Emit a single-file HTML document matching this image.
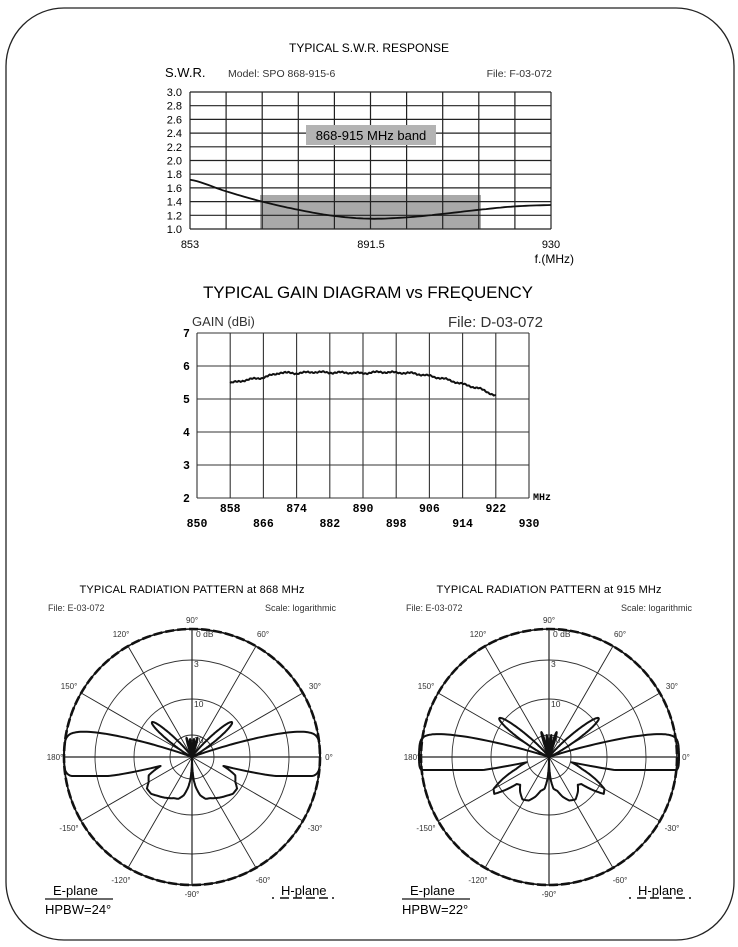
<!DOCTYPE html>
<html><head><meta charset="utf-8"><style>
body{margin:0;background:#fff;}
svg{display:block;font-family:"Liberation Sans",sans-serif;}
</style></head><body>
<svg id="s" width="738" height="947" viewBox="0 0 738 947" xmlns="http://www.w3.org/2000/svg">
<rect x="6" y="8" width="728" height="932" rx="58" ry="58" fill="none" stroke="#222" stroke-width="1.3"/>
<text x="369" y="52" font-size="12" text-anchor="middle" textLength="160">TYPICAL S.W.R. RESPONSE</text>
<text x="165" y="77" font-size="13">S.W.R.</text>
<text x="228" y="77" font-size="10.5" fill="#333">Model:  SPO 868-915-6</text>
<text x="552" y="77" font-size="10.5" text-anchor="end" fill="#333">File:  F-03-072</text>
<rect x="260" y="195" width="221" height="34" fill="#a9a9a9"/>
<g id="swrgrid" stroke="#222" stroke-width="1.2"></g>
<rect x="306" y="125" width="130" height="20" fill="#b3b3b3"/>
<text x="371" y="140" font-size="13" text-anchor="middle">868-915 MHz band</text>
<g id="swrlab" font-size="11" text-anchor="end"></g>
<text x="190" y="248" font-size="11" text-anchor="middle">853</text>
<text x="371" y="248" font-size="11" text-anchor="middle">891.5</text>
<text x="551" y="248" font-size="11" text-anchor="middle">930</text>
<text x="574" y="263" font-size="12" text-anchor="end">f.(MHz)</text>
<path id="swrc" fill="none" stroke="#111" stroke-width="1.8"/>
<text x="368" y="298" font-size="17" text-anchor="middle" textLength="330">TYPICAL GAIN DIAGRAM vs FREQUENCY</text>
<text x="192" y="326" font-size="13" fill="#333">GAIN (dBi)</text>
<text x="543" y="327" font-size="15" text-anchor="end" fill="#333">File:  D-03-072</text>
<g id="ggrid" stroke="#333" stroke-width="1.1"></g>
<g id="glab" font-family="Liberation Mono,monospace" font-weight="bold" font-size="11.5"></g>
<text x="533" y="500" font-family="Liberation Mono,monospace" font-weight="bold" font-size="10">MHz</text>
<path id="gc" fill="none" stroke="#111" stroke-width="2"/>
<text x="192" y="593" font-size="11" text-anchor="middle" textLength="225">TYPICAL RADIATION PATTERN at 868 MHz</text>
<text x="549" y="593" font-size="11" text-anchor="middle" textLength="225">TYPICAL RADIATION PATTERN at 915 MHz</text>
<g id="p1"></g><g id="p2"></g>
</svg>
<script>
var NS="http://www.w3.org/2000/svg";
function el(p,t,a,txt){var e=document.createElementNS(NS,t);for(var k in a)e.setAttribute(k,a[k]);if(txt!=null)e.textContent=txt;p.appendChild(e);return e;}
var $=function(i){return document.getElementById(i)};
var g=$('swrgrid');
for(var i=0;i<=10;i++){var x=190+i*36.1;el(g,'line',{x1:x,y1:92,x2:x,y2:229});}
for(var j=0;j<=10;j++){var y=92+j*13.7;el(g,'line',{x1:190,y1:y,x2:551,y2:y});
 el($('swrlab'),'text',{x:182,y:y+4},(3-j*0.2).toFixed(1));}
var sv=[1.72,1.55,1.40,1.28,1.19,1.15,1.17,1.22,1.28,1.33,1.35];
var d='';for(var i=0;i<=100;i++){var t=i/10,k=Math.min(9,Math.floor(t)),f=t-k;
 var v0=sv[Math.max(0,k-1)],v1=sv[k],v2=sv[k+1],v3=sv[Math.min(10,k+2)];
 var v=0.5*((2*v1)+(-v0+v2)*f+(2*v0-5*v1+4*v2-v3)*f*f+(-v0+3*v1-3*v2+v3)*f*f*f);
 d+=(i?'L':'M')+(190+t*36.1).toFixed(1)+','+(229-(v-1)*68.5).toFixed(1);}
$('swrc').setAttribute('d',d);
g=$('ggrid');
for(var i=0;i<=10;i++){var x=197+i*33.2;el(g,'line',{x1:x,y1:333,x2:x,y2:498});}
for(var j=0;j<=5;j++){var y=333+j*33;el(g,'line',{x1:197,y1:y,x2:529,y2:y});
 el($('glab'),'text',{x:183,y:y+4},String(7-j));}
for(var i=0;i<=10;i++){var x=197+i*33.2,f=850+i*8;
 el($('glab'),'text',{x:x,y:(i%2?512:527),'text-anchor':'middle'},String(f));}
var gp=[[858,5.48],[862,5.58],[866,5.65],[870,5.8],[874,5.78],[878,5.82],[882,5.8],[886,5.8],[890,5.78],[894,5.82],[898,5.8],[902,5.78],[906,5.7],[910,5.6],[914,5.45],[918,5.32],[922,5.1]];
d='';for(var i=0;i<=256;i++){var f=858+i*0.25,k=Math.min(15,Math.floor((f-858)/4)),u=(f-858)/4-k;
 var v=gp[k][1]*(1-u)+gp[k+1][1]*u+ (Math.sin(i*1.7)*0.015+Math.sin(i*0.37)*0.02);
 d+=(i?'L':'M')+(197+(f-850)*4.15).toFixed(1)+','+(498-(v-2)*33).toFixed(1);}
$('gc').setAttribute('d',d);
function interp(pts,a){for(var i=0;i<pts.length-1;i++){if(a<=pts[i+1][0]){var u=(a-pts[i][0])/(pts[i+1][0]-pts[i][0]);return pts[i][1]*(1-u)+pts[i+1][1]*u;}}return pts[pts.length-1][1];}
function polar(gid,cx,cy,R,rf,hp,fileX,scaleX){
 var p=$(gid);
 el(p,'text',{x:fileX,y:611,'font-size':9,fill:'#333'},'File:  E-03-072');
 el(p,'text',{x:scaleX,y:611,'font-size':9,fill:'#333','text-anchor':'end'},'Scale: logarithmic');
 [97,58,22].forEach(function(r){el(p,'circle',{cx:cx,cy:cy,r:r,fill:'none',stroke:'#333','stroke-width':0.9});});
 el(p,'circle',{cx:cx,cy:cy,r:R,fill:'none',stroke:'#111','stroke-width':1.6});
 el(p,'circle',{cx:cx,cy:cy,r:R,fill:'none',stroke:'#111','stroke-width':2.6,'stroke-dasharray':'9 3'});
 for(var a=0;a<360;a+=30){var rad=a*Math.PI/180;
  el(p,'line',{x1:cx,y1:cy,x2:cx+R*Math.cos(rad),y2:cy-R*Math.sin(rad),stroke:'#222','stroke-width':(a%90?0.9:1.2)});
  var lab=a<=180?a:a-360; var L=R+(a%90?14:9);
  el(p,'text',{x:cx+L*Math.cos(rad),y:cy-L*Math.sin(rad)+3,'font-size':8,'text-anchor':'middle',fill:'#333'},(lab==-180?180:lab)+'°');}
 el(p,'text',{x:cx+4,y:cy-R+8,'font-size':8.5,fill:'#333'},'0  dB');
 el(p,'text',{x:cx+2,y:cy-97+7,'font-size':8.5,fill:'#333'},'3');
 el(p,'text',{x:cx+2,y:cy-58+8,'font-size':8.5,fill:'#333'},'10');
 el(p,'text',{x:cx+2,y:cy-22+8,'font-size':8.5,fill:'#333'},'20');
 var d='';for(var i=0;i<=1440;i++){var th=i*0.25-180; var a=th; var m=Math.abs(a)>90?(a>0?180-a:-180-a):a;
  var r=rf(m);var rad=th*Math.PI/180;
  d+=(i?'L':'M')+(cx+r*Math.cos(rad)).toFixed(1)+','+(cy-r*Math.sin(rad)).toFixed(1);}
 el(p,'path',{d:d+'Z',fill:'none',stroke:'#111','stroke-width':2,'stroke-linejoin':'round'});
 var bx=cx-147;
 el(p,'text',{x:bx+8,y:895,'font-size':13},'E-plane');
 el(p,'line',{x1:bx,y1:899,x2:bx+68,y2:899,stroke:'#111','stroke-width':1.2});
 el(p,'text',{x:bx,y:914,'font-size':13},'HPBW='+hp+'°');
 el(p,'text',{x:cx+89,y:895,'font-size':13},'H-plane');
 el(p,'line',{x1:cx+80,y1:898,x2:cx+147,y2:898,stroke:'#111','stroke-width':1.6,'stroke-dasharray':'2 6 9 4 9 4 9 4 9 4'});
}
function G(x,c,s){return Math.exp(-Math.pow((x-c)/s,2));}
var L1=[[23,47],[30,50],[35,55],[42,55],[48,52],[56,49],[66,45],[72,44],[78,39],[83,30],[86,22],[88,12],[90,0]];
function r1(m){ if(m>=0){return 128*Math.exp(-Math.pow(m/17.4,7))+53*G(m,41,8)+20*G(m,74,4)+18*G(m,84,3);}
 var a=-m; var tip=128*Math.exp(-Math.pow(a/15,6));
 if(a<23) return Math.max(Math.min(tip,19/Math.sin(Math.max(a,0.5)*Math.PI/180)),interp(L1,23)*Math.min(1,a/23));
 return interp(L1,a);}
var L2=[[20,35],[25,50],[30,64],[34,66],[37,55],[40,42],[44,40],[50,45],[58,50],[65,48],[71,42],[76,35],[82,32],[86,22],[88,12],[90,0]];
function r2(m){ if(m>=0){return 130*Math.exp(-Math.pow(m/15.5,7))+63*G(m,38,8)+26*G(m,73,4)+22*G(m,84,3);}
 var a=-m; var tip=130*Math.exp(-Math.pow(a/12,6));
 if(a<20) return Math.max(Math.min(tip,13/Math.sin(Math.max(a,0.5)*Math.PI/180)),35*Math.min(1,a/20));
 return interp(L2,a);}
polar('p1',192,757,128,r1,24,48,336);
polar('p2',549,757,128,r2,22,406,692);
</script>
</body></html>
